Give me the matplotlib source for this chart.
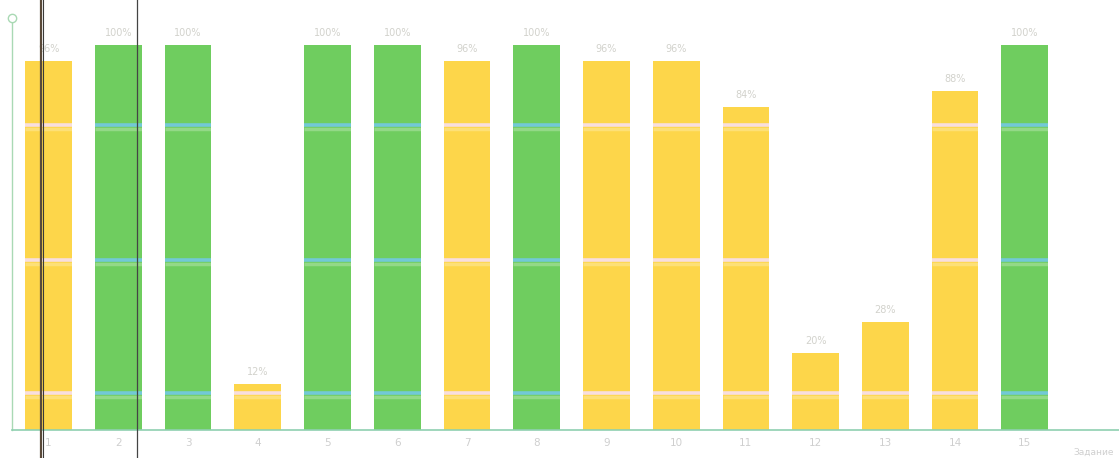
import matplotlib
matplotlib.use("Agg")
import matplotlib.pyplot as plt
from matplotlib.lines import Line2D

tasks = [str(i) for i in range(1, 16)]
scores = [96, 100, 100, 12, 100, 100, 96, 100, 96, 96, 84, 20, 28, 88, 100]
value_labels = [f"{v}%" for v in scores]
grid_levels = [9.7, 44.3, 79.3]
x_title = "Задание"

GREEN = "#6fcd5f"
YELLOW = "#fdd64a"
STRIPE_G = "#72c9d6"
STRIPE_Y = "#f8dede"

fig = plt.figure(figsize=(11.19, 4.58), dpi=100)
ax = fig.add_axes([0.011, 0.061, 0.989, 0.906])

xs = list(range(1, len(tasks) + 1))
colors = [GREEN if v >= 100 else YELLOW for v in scores]
width = 0.67
bars = ax.bar(xs, scores, width=width, color=colors, zorder=2)

for x, v, c in zip(xs, scores, colors):
    sc = STRIPE_G if c == GREEN else STRIPE_Y
    for g in grid_levels:
        if g < v:
            ax.hlines(g, x - width / 2, x + width / 2, color=sc, lw=2.6, zorder=3)
            ax.hlines(g - 1.2, x - width / 2, x + width / 2, color="white",
                      alpha=0.25, lw=2.5, zorder=3)

for x, v, lab in zip(xs, scores, value_labels):
    ax.text(x, v + 1.8, lab, ha="center", va="bottom", fontsize=7,
            color="#d2d2cc", zorder=4)

ax.set_xlim(0.48, 16.35)
ax.set_ylim(0, 107.8)
ax.set_xticks(xs)
ax.set_xticklabels(tasks, fontsize=7.5, color="#cfcfcf")
ax.tick_params(axis="x", length=0, pad=6)
ax.set_yticks([])
for s in ["top", "right"]:
    ax.spines[s].set_visible(False)
ax.spines["left"].set_color("#a9d9b4")
ax.spines["bottom"].set_color("#8fd0b0")
ax.spines["left"].set_linewidth(1.0)
ax.spines["bottom"].set_linewidth(1.2)
ax.plot([0.48], [107.0], marker="o", ms=6, mfc="white", mec="#a9d9b4",
        clip_on=False, zorder=5)
ax.text(15.98, -4.7, x_title, ha="center", va="top", fontsize=6.5,
        color="#cfcfcf", clip_on=False)

# dark vertical lines seen in the reference scan
fig.add_artist(Line2D([0.0362, 0.0362], [0, 1], color="#5a4a3a", lw=1.6))
fig.add_artist(Line2D([0.0385, 0.0385], [0, 1], color="#3a3a3a", lw=0.8))
fig.add_artist(Line2D([0.1225, 0.1225], [0, 1], color="#444444", lw=0.9))

fig.savefig("out.png", dpi=100, facecolor="white")
